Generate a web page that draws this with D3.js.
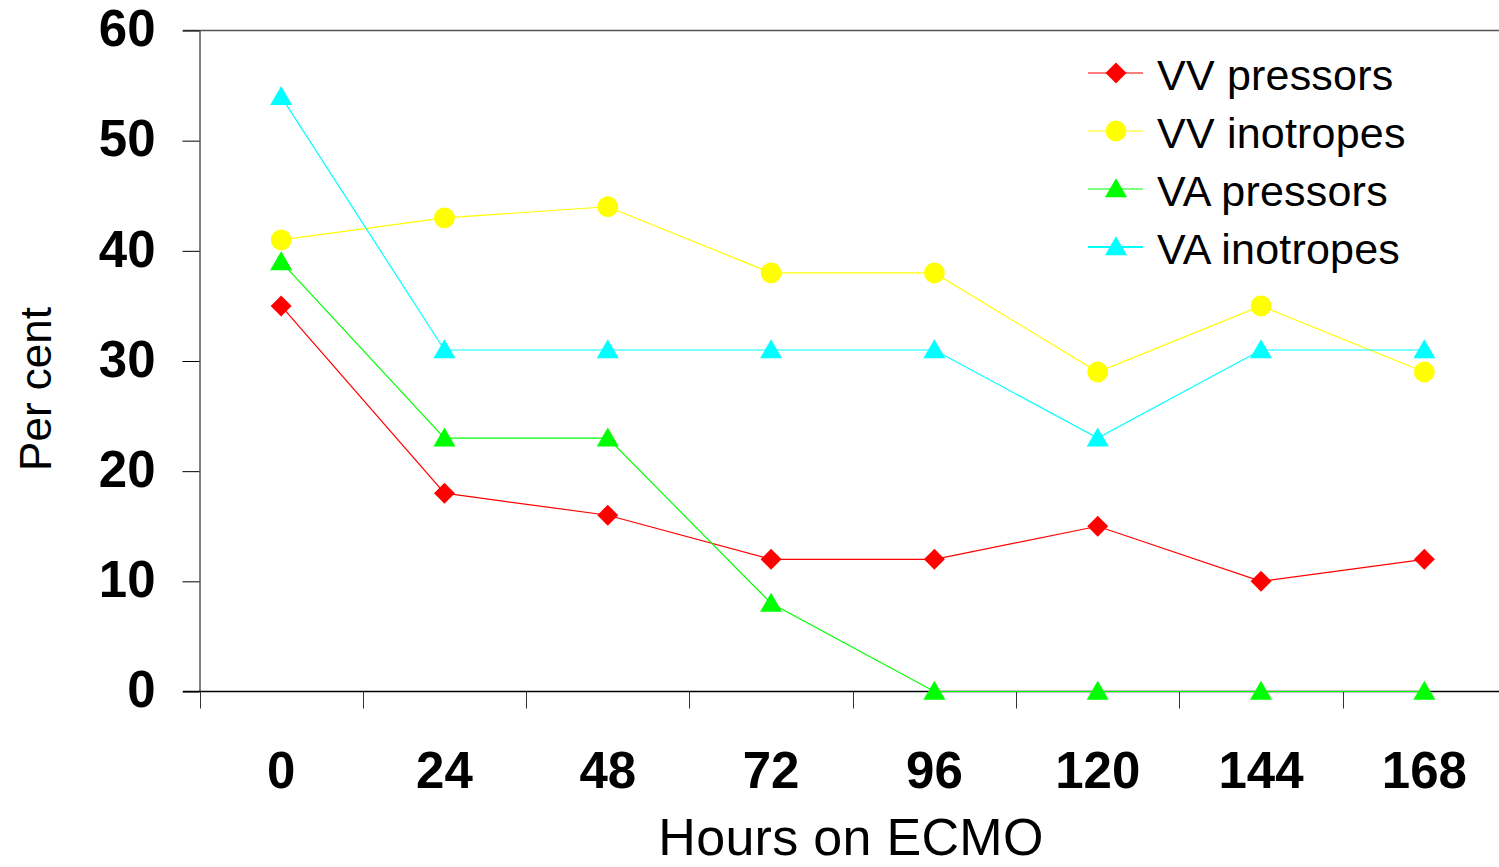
<!DOCTYPE html>
<html><head><meta charset="utf-8">
<script src="https://cdn.jsdelivr.net/npm/d3@7"></script>
<style>html,body{margin:0;padding:0;background:#fff;}svg{display:block;}</style>
</head><body>
<svg id="c" width="1499" height="867"></svg>
<script>
const categories = ["0","24","48","72","96","120","144","168"];
const vvPressors   = [35, 18, 16, 12, 12, 15, 10, 12];
const vvInotropes  = [41, 43, 44, 38, 38, 29, 35, 29];
const vaPressors   = [39, 23, 23, 8, 0, 0, 0, 0];
const vaInotropes  = [54, 31, 31, 31, 31, 23, 31, 31];
const yTicks = [0, 10, 20, 30, 40, 50, 60];
const seriesNames = ["VV pressors", "VV inotropes", "VA pressors", "VA inotropes"];

(function(){
const series = [
  {name: seriesNames[0], values: vvPressors, color: "#ff0000", marker: "diamond"},
  {name: seriesNames[1], values: vvInotropes, color: "#ffff00", marker: "circle"},
  {name: seriesNames[2], values: vaPressors, color: "#00ff00", marker: "triangle"},
  {name: seriesNames[3], values: vaInotropes, color: "#00ffff", marker: "triangle"}
];

const svg = d3.select("#c");
const pLeft = 199.5, pRight = 1506, pTop = 30.5, pBottom = 691.5;
const x = d3.scaleBand().domain(categories).range([pLeft, pRight]);
const y = d3.scaleLinear().domain([0, 60]).range([pBottom, pTop]);
const font = "Liberation Sans, Arial, Helvetica, sans-serif";

// top border line
svg.append("line").attr("x1", 183).attr("x2", 1499).attr("y1", y(60)).attr("y2", y(60))
  .attr("stroke", "#555").attr("stroke-width", 1.5);

// y axis
const yAxis = d3.axisLeft(y).tickValues(yTicks).tickSize(17).tickPadding(27).tickSizeOuter(0);
const gy = svg.append("g").attr("transform", `translate(${pLeft},0)`).call(yAxis);
gy.select(".domain").attr("stroke", "#000").attr("stroke-width", 1);
gy.selectAll(".tick line").attr("stroke", "#000");
gy.selectAll(".tick text").attr("font-family", font).attr("font-weight", "bold")
  .attr("font-size", 51).attr("fill", "#000").attr("dy", "0.3em");

// x axis (baseline at y=0)
const xTickPos = categories.map(c => x(c));
svg.append("line").attr("x1", 183).attr("x2", 1499).attr("y1", y(0)).attr("y2", y(0))
  .attr("stroke", "#000").attr("stroke-width", 1.5);
svg.selectAll(".xt").data(xTickPos).enter().append("line")
  .attr("x1", d => Math.round(d) + 0.5).attr("x2", d => Math.round(d) + 0.5)
  .attr("y1", y(0)).attr("y2", y(0) + 17).attr("stroke", "#333").attr("stroke-width", 1);
svg.selectAll(".xl").data(categories).enter().append("text")
  .attr("x", d => x(d) + x.bandwidth() / 2).attr("y", 788)
  .attr("text-anchor", "middle").attr("font-family", font).attr("font-weight", "bold")
  .attr("font-size", 51).text(d => d);

// axis titles
svg.append("text").attr("x", 851).attr("y", 855).attr("text-anchor", "middle")
  .attr("font-family", font).attr("font-size", 52).attr("letter-spacing", 0.3).text("Hours on ECMO");
svg.append("text").attr("transform", "translate(51,389) rotate(-90)").attr("text-anchor", "middle")
  .attr("font-family", font).attr("font-size", 44).text("Per cent");

const cx = c => x(c) + x.bandwidth() / 2;
const symbolFor = m => m === "diamond" ? d3.symbolSquare : m === "circle" ? d3.symbolCircle : d3.symbolTriangle;
const sizeFor = m => m === "diamond" ? 220 : m === "circle" ? 340 : 210;
const rotFor = m => m === "diamond" ? 45 : 0;

const line = d3.line().x((d, i) => cx(categories[i])).y(d => y(d));
series.forEach(s => {
  svg.append("path").datum(s.values).attr("d", line).attr("fill", "none")
    .attr("stroke", s.color).attr("stroke-width", 1.2);
});
series.forEach(s => {
  svg.selectAll(null).data(s.values).enter().append("path")
    .attr("d", d3.symbol().type(symbolFor(s.marker)).size(sizeFor(s.marker)))
    .attr("transform", (d, i) => `translate(${cx(categories[i])},${y(d) + (s.marker === "triangle" ? 2 : 0)}) rotate(${rotFor(s.marker)})`)
    .attr("fill", s.color);
});

// legend
const legY = [73, 131, 189, 247];
series.forEach((s, i) => {
  const g = svg.append("g").attr("transform", `translate(0,${legY[i]})`);
  g.append("line").attr("x1", 1088).attr("x2", 1143).attr("y1", 0).attr("y2", 0)
    .attr("stroke", s.color).attr("stroke-width", i === 3 ? 2 : 1.2);
  g.append("path").attr("d", d3.symbol().type(symbolFor(s.marker)).size(sizeFor(s.marker)))
    .attr("transform", `translate(1116,${s.marker === "triangle" ? 2 : 0}) rotate(${rotFor(s.marker)})`)
    .attr("fill", s.color);
  g.append("text").attr("x", 1157).attr("y", 17).attr("font-family", font)
    .attr("font-size", 43).attr("letter-spacing", 0.2).text(s.name);
});
})();
</script>
</body></html>
